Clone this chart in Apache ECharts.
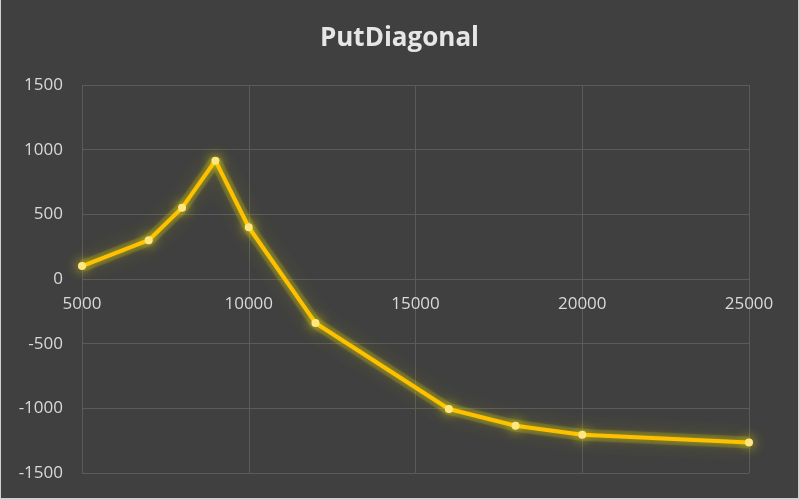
<!DOCTYPE html>
<html>
<head>
<meta charset="utf-8">
<script src="https://cdn.jsdelivr.net/npm/echarts@6/dist/echarts.min.js"></script>
<style>
html,body{margin:0;padding:0;background:#d0d0d0;}
#c{position:absolute;left:1px;top:0;width:797px;height:498px;background:#404040;}
</style>
</head>
<body>
<div id="c"></div>
<script>
const titleText = 'PutDiagonal';
const xValues = [5000, 7000, 8000, 9000, 10000, 12000, 16000, 18000, 20000, 25000];
const yValues = [100, 300, 550, 915, 400, -340, -1005, -1135, -1205, -1265];
const yTicks = [-1500, 1500, 500];
const xTicks = [5000, 25000, 5000];

const chart = echarts.init(document.getElementById('c'));
const gridColor = '#5b5b5b';
const labelColor = '#d9d9d9';
const fmt = v => String(v);
const pts = xValues.map((x, i) => [x, yValues[i]]);
chart.setOption({
  backgroundColor: '#404040',
  animation: false,
  title: {
    text: titleText, left: 'center', top: 21,
    textStyle: {color: '#e6e6e6', fontSize: 26, fontWeight: 'bold', fontFamily: 'Open Sans'}
  },
  grid: [
    {left: 81, right: 49, top: 85, height: 388, outerBoundsMode: 'none', containLabel: false},
    {left: 81, right: 49, top: 85, height: 194, outerBoundsMode: 'none', containLabel: false}
  ],
  xAxis: [{
    gridIndex: 0,
    type: 'value', min: xTicks[0], max: xTicks[1], interval: xTicks[2],
    axisLine: {show: false},
    axisTick: {show: false},
    splitLine: {show: true, lineStyle: {color: gridColor, width: 1}},
    axisLabel: {show: false}
  }, {
    gridIndex: 1,
    type: 'value', min: xTicks[0], max: xTicks[1], interval: xTicks[2],
    axisLine: {show: false},
    axisTick: {show: false},
    splitLine: {show: false},
    axisLabel: {color: labelColor, fontSize: 17, fontFamily: 'Open Sans', margin: 17, formatter: fmt}
  }],
  yAxis: [{
    gridIndex: 0,
    type: 'value', min: yTicks[0], max: yTicks[1], interval: yTicks[2],
    axisLine: {show: false},
    axisTick: {show: false},
    splitLine: {show: true, lineStyle: {color: gridColor, width: 1}},
    axisLabel: {color: labelColor, fontSize: 17, fontFamily: 'Open Sans', margin: 19, formatter: fmt}
  }, {
    gridIndex: 1, type: 'value', min: 0, max: 1,
    axisLine: {show: false}, axisTick: {show: false}, splitLine: {show: false}, axisLabel: {show: false}
  }],
  series: [{
    type: 'line', silent: true,
    data: pts, symbol: 'none',
    lineStyle: {color: 'rgba(200,190,30,0.18)', width: 12, shadowBlur: 18, shadowColor: 'rgba(215,205,0,0.8)'}
  }, {
    type: 'line',
    data: pts,
    symbol: 'circle', symbolSize: 8,
    itemStyle: {color: '#ffe680', shadowBlur: 12, shadowColor: 'rgba(255,240,0,0.95)'},
    lineStyle: {color: '#ffc000', width: 4, shadowBlur: 6, shadowColor: 'rgba(225,215,0,0.7)'}
  }]
});
</script>
</body>
</html>
